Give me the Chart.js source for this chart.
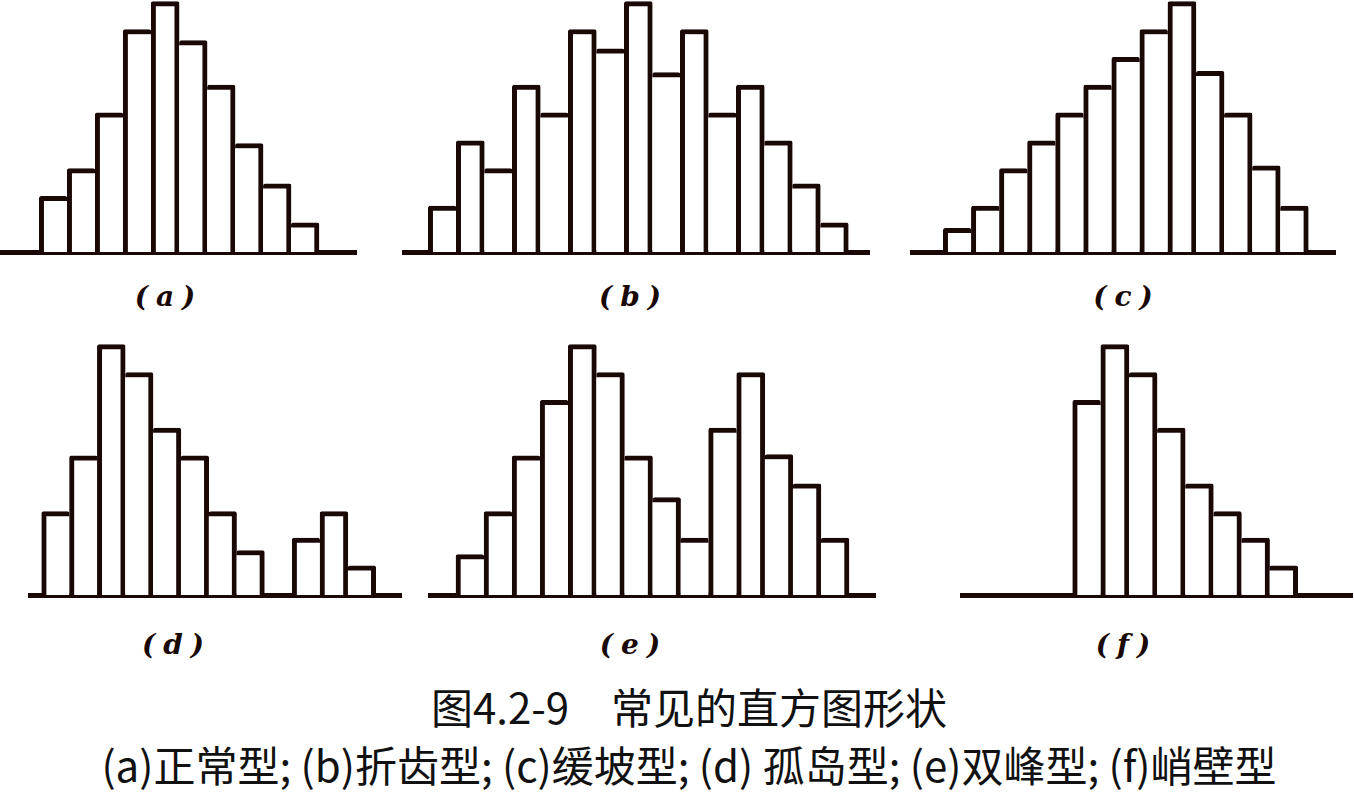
<!DOCTYPE html>
<html>
<head>
<meta charset="utf-8">
<script src="https://cdn.jsdelivr.net/npm/chart.js@4.4.1/dist/chart.umd.min.js"></script>
<style>
  html, body { margin: 0; background: #fff; }
  #wrap { position: relative; width: 1354px; height: 794px; overflow: hidden; }
  canvas { position: absolute; }
  .lbl { position: absolute; width: 120px; margin-left: -60px; padding-left: 8px; box-sizing: border-box;
         text-align: center; font: italic bold 28px "DejaVu Serif"; letter-spacing: 8px; line-height: 30px; color: #1a0806; }
  .cap { position: absolute; left: 12px; width: 1354px; text-align: center; font-family: "Noto Sans CJK SC"; font-size: 42px;
         line-height: 44px; color: #111; white-space: pre; }
</style>
</head>
<body>
<div id="wrap">
  <canvas id="histA"></canvas>
  <canvas id="histB"></canvas>
  <canvas id="histC"></canvas>
  <canvas id="histD"></canvas>
  <canvas id="histE"></canvas>
  <canvas id="histF"></canvas>
</div>
<script>
// bar heights (same unit for all six panels)
const normalType   = [2, 3, 5, 8, 9, 7.6, 6, 3.9, 2.45, 1.05];
const combType     = [1.65, 4, 3, 6, 5, 8, 7.3, 9, 6.45, 8, 5, 6, 4, 2.45, 1.05];
const skewedType   = [0.85, 1.65, 3, 4, 5, 6, 7, 8, 9, 6.5, 5, 3.1, 1.65];
const islandType   = [3, 5, 9, 8, 6, 5, 3, 1.6, null, 2.05, 3, 1.05];
const bimodalType  = [1.45, 3, 5, 7, 9, 8, 5, 3.5, 2.05, 6, 8, 5.05, 4, 2.05];
const cliffType    = [7, 9, 8, 6, 4, 3, 2.05, 1.05];

const panelLabels = ["(a)", "(b)", "(c)", "(d)", "(e)", "(f)"];
const captionLines = ["图4.2-9　常见的直方图形状", "(a)正常型; (b)折齿型; (c)缓坡型; (d) 孤岛型; (e)双峰型; (f)峭壁型"];

const INK = "#1a0806";
const BAR_LINE = 5;
const Y_MAX = 9.06;

// where each panel sits: baseline span and span of the bars
const panels = [
  { id: "histA", vals: normalType,  left: 0,   right: 357,  top: 0,   barL: 39.3,  barR: 319 },
  { id: "histB", vals: combType,    left: 402, right: 870,  top: 0,   barL: 428.3, barR: 848.3 },
  { id: "histC", vals: skewedType,  left: 910, right: 1336, top: 0,   barL: 943.3, barR: 1308.3 },
  { id: "histD", vals: islandType,  left: 28,  right: 402,  top: 343, barL: 41.7,  barR: 375.7 },
  { id: "histE", vals: bimodalType, left: 428, right: 876,  top: 343, barL: 456,   barR: 849 },
  { id: "histF", vals: cliffType,   left: 960, right: 1353, top: 343, barL: 1072.7, barR: 1297.7 },
];
const labelPos = [[165, 282], [630, 282], [1123, 282], [173, 630], [630, 630], [1123, 630]];

// only the taller of two neighbours draws the shared edge, so inner lines keep one width
function edges(vals) {
  return (ctx) => {
    const i = ctx.dataIndex;
    if (i === undefined) return BAR_LINE;
    const cur = vals[i], prev = vals[i - 1], next = vals[i + 1];
    const left = (prev == null || prev < cur) ? BAR_LINE : 0;
    const right = (next == null || next <= cur) ? BAR_LINE : 0;
    return { top: BAR_LINE, left, right, bottom: 0 };
  };
}

function drawPanel(p) {
  const el = document.getElementById(p.id);
  const n = p.vals.length;
  const slot = (p.barR - p.barL) / n;
  el.width = p.right - p.left;
  el.height = 258;
  el.style.left = p.left + "px";
  el.style.top = p.top + "px";
  new Chart(el, {
    type: "bar",
    data: {
      datasets: [{
        data: p.vals.map((v, i) => ({ x: i, y: v })),
        backgroundColor: "#fff", borderColor: INK, borderWidth: edges(p.vals), borderRadius: 2,
        barThickness: slot, grouped: false,
      }],
    },
    options: {
      responsive: false, animation: false, events: [],
      layout: { padding: { left: 0, right: 0, top: 0, bottom: 6 } },
      plugins: { legend: { display: false }, tooltip: { enabled: false } },
      scales: {
        x: {
          type: "linear", z: 1, offset: false, bounds: "data",
          min: -0.5 - (p.barL - p.left) / slot,
          max: n - 0.5 + (p.right - p.barR) / slot,
          grid: { display: false, drawTicks: false, offset: false }, ticks: { display: false },
          border: { display: true, color: INK, width: 5 },
        },
        y: { display: false, min: 0, max: Y_MAX },
      },
    },
  });
}

panels.forEach(drawPanel);

const wrap = document.getElementById("wrap");
panelLabels.forEach((t, i) => {
  const d = document.createElement("div");
  d.className = "lbl";
  d.textContent = t;
  d.style.left = labelPos[i][0] + "px";
  d.style.top = labelPos[i][1] + "px";
  wrap.appendChild(d);
});
[684, 742].forEach((top, i) => {
  const d = document.createElement("div");
  d.className = "cap";
  d.textContent = captionLines[i];
  d.style.top = top + "px";
  wrap.appendChild(d);
});
</script>
</body>
</html>
